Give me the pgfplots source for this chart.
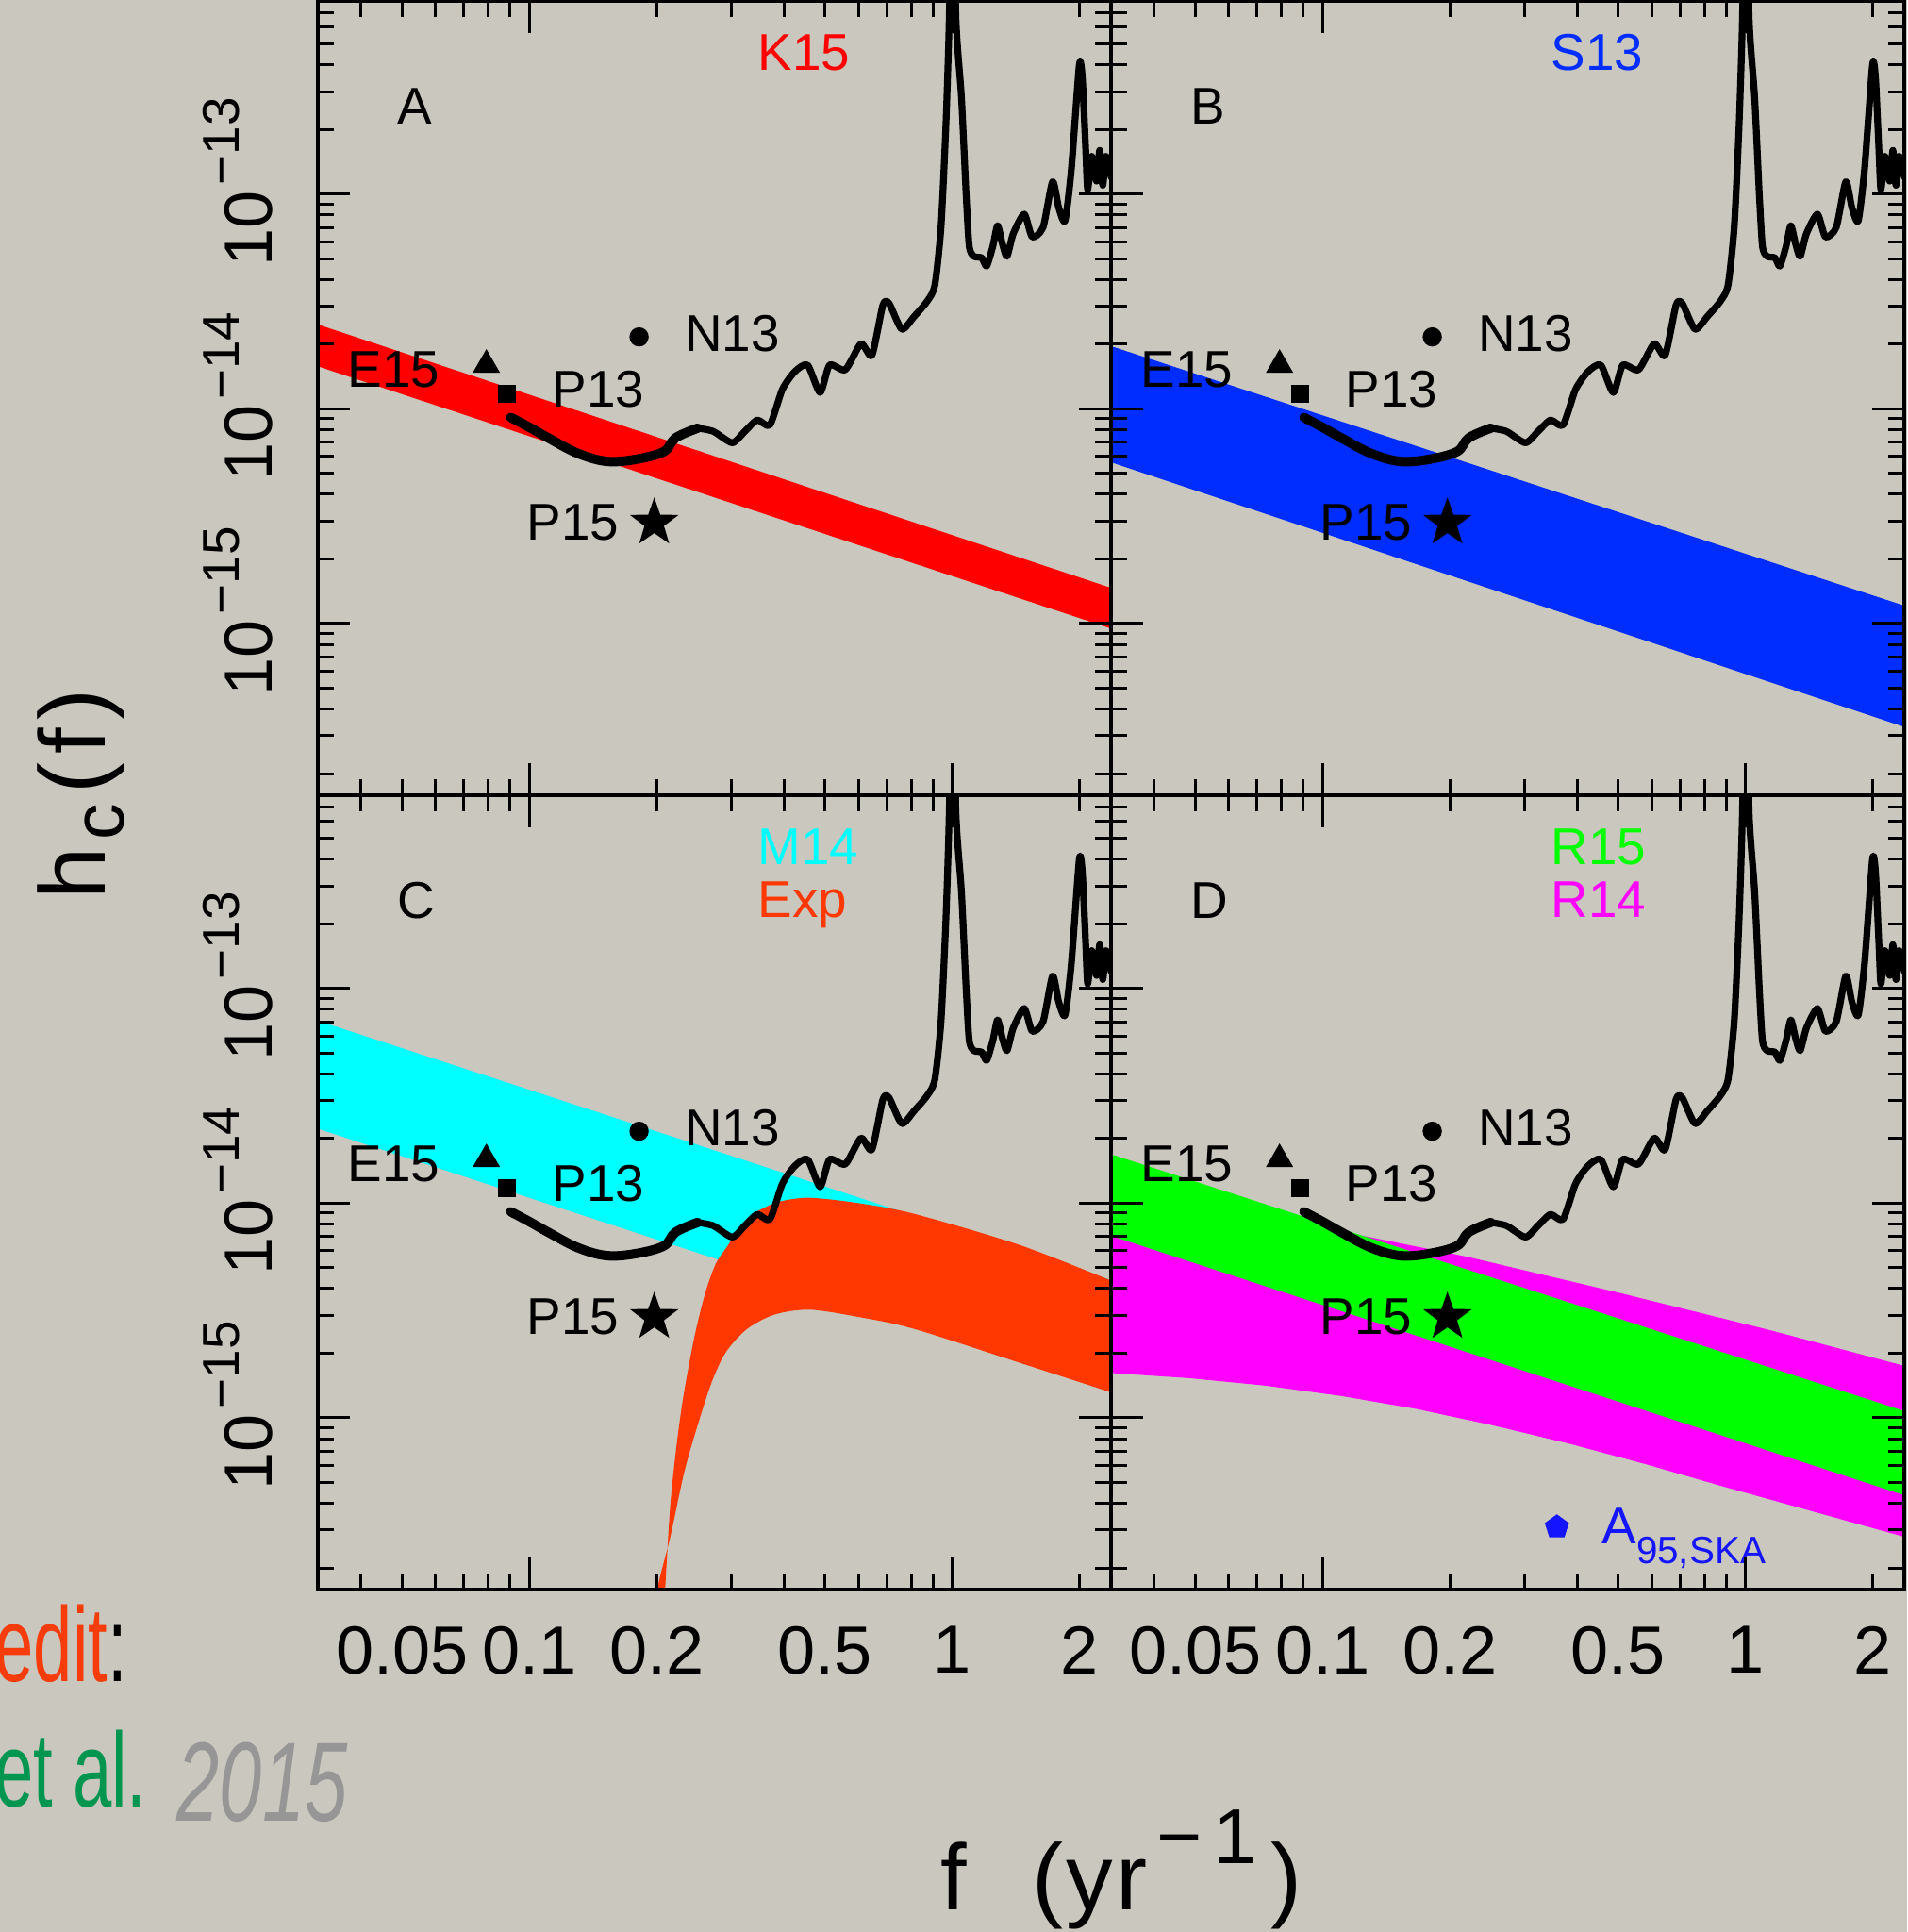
\documentclass[border=0pt]{standalone}
\usepackage{fontspec}
\setmainfont{Liberation Sans}
\usepackage{pgfplots}
\pgfplotsset{compat=1.18}
\usepackage{pgfplotstable}
\usetikzlibrary{plotmarks}

\definecolor{bg}{RGB}{202,199,191}
\definecolor{kred}{RGB}{255,0,0}
\definecolor{sblue}{RGB}{0,45,255}
\definecolor{mcyan}{RGB}{0,255,255}
\definecolor{expred}{RGB}{255,55,0}
\definecolor{rgreen}{RGB}{0,255,0}
\definecolor{rmag}{RGB}{255,0,255}
\definecolor{ablue}{RGB}{20,20,255}
\definecolor{credred}{RGB}{245,60,10}
\definecolor{credgreen}{RGB}{0,150,80}
\definecolor{credgray}{RGB}{150,150,150}

\pgfdeclareplotmark{fstar}{%
  \pgfpathmoveto{\pgfqpointpolar{90}{\pgfplotmarksize}}%
  \pgfpathlineto{\pgfqpointpolar{126}{0.4\pgfplotmarksize}}%
  \pgfpathlineto{\pgfqpointpolar{162}{\pgfplotmarksize}}%
  \pgfpathlineto{\pgfqpointpolar{198}{0.4\pgfplotmarksize}}%
  \pgfpathlineto{\pgfqpointpolar{234}{\pgfplotmarksize}}%
  \pgfpathlineto{\pgfqpointpolar{270}{0.4\pgfplotmarksize}}%
  \pgfpathlineto{\pgfqpointpolar{306}{\pgfplotmarksize}}%
  \pgfpathlineto{\pgfqpointpolar{342}{0.4\pgfplotmarksize}}%
  \pgfpathlineto{\pgfqpointpolar{18}{\pgfplotmarksize}}%
  \pgfpathlineto{\pgfqpointpolar{54}{0.4\pgfplotmarksize}}%
  \pgfpathclose
  \pgfusepathqfill
}

% PTA sensitivity curve, low-frequency (thick) part
\pgfplotstableread{
x y
0.0903 9.12e-15
0.1000 8.20e-15
0.1109 7.31e-15
0.1297 6.22e-15
0.1517 5.70e-15
0.1776 5.81e-15
0.2077 6.32e-15
0.2216 7.33e-15
0.2498 8.13e-15
}\senslow
% high-frequency (thinner) part
\pgfplotstableread{
x y
0.2498 8.13e-15
0.2721 7.85e-15
0.3015 6.95e-15
0.3228 7.85e-15
0.3456 8.87e-15
0.3700 8.41e-15
0.3963 1.233e-14
0.4242 1.493e-14
0.4544 1.600e-14
0.4864 1.191e-14
0.5122 1.600e-14
0.5579 1.521e-14
0.6075 2.009e-14
0.6450 1.778e-14
0.6847 3.048e-14
0.7083 3.097e-14
0.7586 2.350e-14
0.8124 2.698e-14
0.8697 3.155e-14
0.9081 3.758e-14
0.9393 7.01e-14
0.9638 2.0e-13
0.9806 5.66e-13
1.0000 3.16e-12
1.0198 6.31e-13
1.0500 2.818e-13
1.0770 9.93e-14
1.0956 5.70e-14
1.1240 5.13e-14
1.1730 5.05e-14
1.2040 4.62e-14
1.2450 5.70e-14
1.2780 7.14e-14
1.3110 5.90e-14
1.3450 5.13e-14
1.3920 6.55e-14
1.4780 8.07e-14
1.5430 6.32e-14
1.6370 7.01e-14
1.7240 1.143e-13
1.7830 8.65e-14
1.8450 7.52e-14
1.9100 1.312e-13
1.9940 3.99e-13
2.0270 3.48e-13
2.0630 1.675e-13
2.0870 1.05e-13
2.1340 1.50e-13
2.1900 1.15e-13
2.2280 1.60e-13
2.2660 1.10e-13
2.3050 1.50e-13
2.3710 1.20e-13
}\senshigh

\newcommand{\tlab}[1]{10\kern0.6mm\raisebox{3.5mm}{\fontsize{15.6}{16}\selectfont −#1}}

\tikzset{lbl/.style={font=\fontsize{15.6}{17}\selectfont, inner sep=0pt},
         xtl/.style={font=\fontsize{20.5}{22}\selectfont, inner sep=0pt, anchor=north, yshift=-3.8mm}}

\pgfplotsset{
  every axis/.append style={
    xmode=log, ymode=log, scale only axis,
    width=84.1mm, height=84.2mm,
    xmin=0.0316, xmax=2.37, ymin=1.585e-16, ymax=7.94e-13,
    axis on top, clip mode=individual,
    axis line style={line width=0.45mm},
    tick align=inside, tick pos=both,
    major tick style={black, line width=0.3mm},
    minor tick style={black, line width=0.3mm},
    major tick length=3.4mm, minor tick length=1.7mm,
    xtick={0.1,1},
    minor xtick={0.04,0.05,0.06,0.07,0.08,0.09,0.2,0.3,0.4,0.5,0.6,0.7,0.8,0.9,2},
    ytick={1e-15,1e-14,1e-13},
    minor ytick={2e-16,3e-16,4e-16,5e-16,6e-16,7e-16,8e-16,9e-16,
      2e-15,3e-15,4e-15,5e-15,6e-15,7e-15,8e-15,9e-15,
      2e-14,3e-14,4e-14,5e-14,6e-14,7e-14,8e-14,9e-14,
      2e-13,3e-13,4e-13,5e-13,6e-13,7e-13},
    xticklabel style={font=\fontsize{20.5}{22}\selectfont, inner sep=0pt, anchor=north, yshift=-3.8mm},
    yticklabel style={font=\fontsize{20.5}{22}\selectfont, inner sep=0pt, xshift=-4.7mm, yshift=1.3mm, rotate=90, anchor=south},
  },
}

\newcommand{\commonplots}{%
  \addplot[black, line width=1.0mm, smooth, tension=0.6, line cap=round, line join=round] table {\senslow};
  \addplot[black, line width=0.72mm, smooth, tension=0.4, line cap=round, line join=round] table {\senshigh};
  \addplot[only marks, mark=triangle*, mark size=4.35pt, black] coordinates {(0.0791,1.603e-14)};
  \addplot[only marks, mark=square*, mark size=2.56pt, black] coordinates {(0.0884,1.178e-14)};
  \addplot[only marks, mark=*, mark size=2.7pt, black] coordinates {(0.1816,2.163e-14)};
  \addplot[only marks, mark=fstar, mark size=7.7pt, black] coordinates {(0.1972,2.944e-15)};
  \node[lbl, anchor=east] at (axis cs:0.0616,1.521e-14) {E15};
  \node[lbl, anchor=west] at (axis cs:0.1130,1.236e-14) {P13};
  \node[lbl, anchor=west] at (axis cs:0.2324,2.234e-14) {N13};
  \node[lbl, anchor=east] at (axis cs:0.1632,2.94e-15) {P15};
}
\newcommand{\xlabs}{%
  \node[xtl] at (axis cs:0.05,1.585e-16) {0.05};
  \node[xtl] at (axis cs:0.2,1.585e-16) {0.2};
  \node[xtl] at (axis cs:0.5,1.585e-16) {0.5};
  \node[xtl] at (axis cs:2,1.585e-16) {2};
}

\begin{document}
\begin{tikzpicture}
\useasboundingbox (0,0) rectangle (202.2mm,204.8mm);
\fill[bg] (0,0) rectangle (202.2mm,204.8mm);

% ---------- Panel A ----------
\begin{axis}[at={(33.7mm,120.5mm)}, anchor=south west,
  xticklabels={\mbox{},\mbox{}},
  yticklabels={\tlab{15},\tlab{14},\tlab{13}}]
  \addplot[fill=kred, draw=none] coordinates {(0.0316,2.472e-14) (2.37,1.466e-15) (2.37,9.48e-16) (0.0316,1.578e-14)};
  \commonplots
  \node[lbl, anchor=base west] at (rel axis cs:0.100,0.845) {A};
  \node[lbl, anchor=base west, text=kred] at (rel axis cs:0.554,0.913) {K15};
\end{axis}

% ---------- Panel B ----------
\begin{axis}[at={(117.8mm,120.5mm)}, anchor=south west,
  xticklabels={\mbox{},\mbox{}},
  yticklabels={\mbox{},\mbox{},\mbox{}}]
  \addplot[fill=sblue, draw=none] coordinates {(0.0316,1.959e-14) (2.37,1.211e-15) (2.37,3.30e-16) (0.0316,5.64e-15)};
  \commonplots
  \node[lbl, anchor=base west] at (rel axis cs:0.100,0.845) {B};
  \node[lbl, anchor=base west, text=sblue] at (rel axis cs:0.554,0.913) {S13};
\end{axis}

% ---------- Panel C ----------
\begin{axis}[at={(33.7mm,36.3mm)}, anchor=south west,
  xticklabels={0.1,1},
  yticklabels={\tlab{15},\tlab{14},\tlab{13}}]
  \addplot[fill=mcyan, draw=none] coordinates {(0.0316,7.08e-14) (2.37,4.385e-15) (2.37,1.377e-15) (0.0316,2.223e-14)};
  \addplot[fill=expred, draw=none, smooth, tension=0.5] coordinates {
    (0.2063,1.0e-16) (0.2091,1.56e-16) (0.2153,3.96e-16) (0.2236,7.94e-16) (0.2323,1.340e-15)
    (0.2458,2.415e-15) (0.2602,3.80e-15) (0.2754,5.20e-15) (0.2916,6.18e-15) (0.3267,8.45e-15)
    (0.36,9.55e-15) (0.395,1.023e-14) (0.46,1.059e-14) (0.6,1.0e-14) (0.813,8.91e-15)
    (1.436,6.40e-15) (2.37,4.365e-15) (2.5,4.22e-15) (2.6,4.13e-15)
    (2.6,1.245e-15) (2.5,1.27e-15) (2.37,1.315e-15) (1.436,1.81e-15) (0.813,2.594e-15) (0.6,2.95e-15)
    (0.46,3.19e-15) (0.3802,3.03e-15) (0.3268,2.594e-15) (0.2916,2.03e-15) (0.2703,1.486e-15)
    (0.2506,9.44e-16) (0.2323,5.61e-16) (0.2153,2.80e-16) (0.2002,1.56e-16) (0.198,1.0e-16)};
  \commonplots
  \xlabs
  \node[lbl, anchor=base west] at (rel axis cs:0.100,0.845) {C};
  \node[lbl, anchor=base west, text=mcyan] at (rel axis cs:0.554,0.913) {M14};
  \node[lbl, anchor=base west, text=expred] at (rel axis cs:0.554,0.8465) {Exp};
\end{axis}

% ---------- Panel D ----------
\begin{axis}[at={(117.8mm,36.3mm)}, anchor=south west,
  xticklabels={0.1,1},
  yticklabels={\mbox{},\mbox{},\mbox{}}]
  \addplot[fill=rmag, draw=none] coordinates {
    (0.0316,1.213e-14) (0.1268,7.00e-15) (0.2202,5.62e-15) (0.5032,3.82e-15) (1.151,2.55e-15) (2.37,1.746e-15)
    (2.37,2.79e-16) (1.4454,3.66e-16) (0.8740,4.82e-16) (0.5776,6.10e-16) (0.3819,7.59e-16) (0.2525,9.23e-16)
    (0.1671,1.099e-15) (0.1104,1.265e-15) (0.0730,1.414e-15) (0.0483,1.531e-15) (0.0316,1.618e-15)};
  \addplot[fill=rgreen, draw=none] coordinates {(0.0316,1.690e-14) (2.37,1.076e-15) (2.37,4.365e-16) (0.0316,7.05e-15)};
  \commonplots
  \addplot[only marks, mark=pentagon*, mark size=3.6pt, ablue] coordinates {(0.3578,3.10e-16)};
  \xlabs
  \node[lbl, anchor=base west] at (rel axis cs:0.100,0.845) {D};
  \node[lbl, anchor=base west, text=rgreen] at (rel axis cs:0.554,0.913) {R15};
  \node[lbl, anchor=base west, text=rmag] at (rel axis cs:0.554,0.8465) {R14};
  \node[lbl, anchor=base west, text=ablue] at (rel axis cs:0.618,0.058) {A\raisebox{-2.1mm}{\fontsize{11.5}{12}\selectfont 95,SKA}};
\end{axis}

% axis labels
\node[rotate=90, anchor=base, inner sep=0pt, font=\fontsize{28.2}{30}\selectfont] at (11.1mm,120.6mm)
  {h\kern0.8mm\raisebox{-2mm}{\fontsize{22}{23}\selectfont c}\kern1mm(\kern0.9mm f\kern0.9mm)};
\node[anchor=base, inner sep=0pt, font=\fontsize{28.2}{30}\selectfont] at (118.9mm,2.3mm)
  {f\hspace{0.7em}(\kern0.3mm y\kern0.3mm r\kern1.0mm\raisebox{5mm}{\fontsize{23.5}{24}\selectfont −\kern1.2mm 1}\kern1.5mm)};

% partially visible credit text
\node[anchor=base west, inner sep=0pt, font=\fontsize{32}{34}\selectfont] at (-0.6mm,26.5mm)
  {\scalebox{0.66}[1]{\textcolor{credred}{edit}\textcolor{black}{:}}};
\node[anchor=base west, inner sep=0pt, font=\fontsize{32}{34}\selectfont] at (-0.6mm,13.3mm)
  {\scalebox{0.66}[1]{\textcolor{credgreen}{et al.}}};
\node[anchor=base west, inner sep=0pt, font=\fontsize{34}{36}\selectfont\itshape] at (18.7mm,11.8mm)
  {\scalebox{0.68}[1]{\textcolor{credgray}{2015}}};
\end{tikzpicture}
\end{document}
